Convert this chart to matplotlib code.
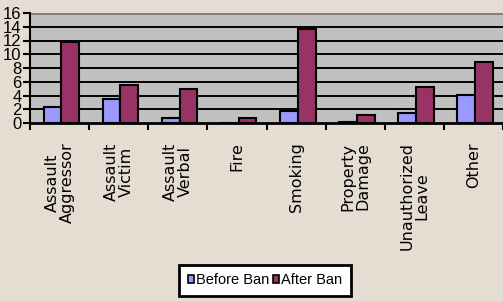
import matplotlib
matplotlib.use("Agg")
import matplotlib.pyplot as plt
import numpy as np
from matplotlib.patches import Patch

categories = ["Assault\nAggressor", "Assault\nVictim", "Assault\nVerbal", "Fire",
              "Smoking", "Property\nDamage", "Unauthorized\nLeave", "Other"]
before_ban = [2.3, 3.5, 0.8, 0.0, 1.8, 0.2, 1.5, 4.1]
after_ban = [11.8, 5.5, 5.0, 0.7, 13.7, 1.1, 5.2, 8.8]
yticks = [0, 2, 4, 6, 8, 10, 12, 14, 16]

plt.rcParams['font.family'] = ['Liberation Sans', 'DejaVu Sans']

bg = '#e6ddd2'
fig = plt.figure(figsize=(5.03, 3.01), dpi=100, facecolor=bg)
ax = fig.add_axes([30/503, 1-123/301, 473/503, 110/301])
ax.set_facecolor('#c0c0c0')

x = np.arange(len(categories)) + 0.5
w = 0.3
c_before = '#9999ff'
c_after = '#993366'
ax.bar(x - w/2 + 0.03, before_ban, w, color=c_before, edgecolor='black', linewidth=1.5, zorder=3)
ax.bar(x + w/2 + 0.03, after_ban, w, color=c_after, edgecolor='black', linewidth=1.5, zorder=3)

ax.set_xlim(0, len(categories))
ax.set_ylim(0, 16)
ax.set_yticks(yticks)
ax.set_yticklabels([str(v) for v in yticks], fontsize=12)
ax.tick_params(axis='y', length=5, width=1.5, pad=1, color='black')

for v in yticks[1:-1]:
    ax.axhline(v, color='black', lw=1.4, zorder=1)
ax.axhline(16, color='#808080', lw=2.2, zorder=1)

ax.set_xticks(np.arange(len(categories) + 1))
ax.set_xticklabels([])
ax.tick_params(axis='x', which='major', length=5, width=1.5, direction='out', color='black')
ax.set_xticks(x, minor=True)
ax.set_xticklabels(categories, minor=True, rotation=90, fontsize=11.5,
                   family=['DejaVu Sans'], linespacing=1.0, multialignment='center')
ax.tick_params(axis='x', which='minor', length=0, pad=14)

for s in ['top', 'right']:
    ax.spines[s].set_visible(False)
ax.spines['left'].set_linewidth(1.5)
ax.spines['bottom'].set_linewidth(2)
ax.spines['bottom'].set_zorder(4)

handles = [Patch(facecolor=c_before, edgecolor='black', linewidth=1.2, label='Before Ban'),
           Patch(facecolor=c_after, edgecolor='black', linewidth=1.2, label='After Ban')]
leg = fig.legend(handles=handles, loc='center', bbox_to_anchor=(265/503, 1-280.5/301),
                 ncol=2, fontsize=10.5, frameon=True, fancybox=False,
                 handlelength=0.45, handleheight=0.45, handletextpad=0.15,
                 columnspacing=0.2, borderpad=0.6, borderaxespad=0)
leg.get_frame().set_edgecolor('black')
leg.get_frame().set_linewidth(2)
leg.get_frame().set_facecolor('white')
leg.get_frame().set_alpha(1)

fig.savefig('out.png', dpi=100, facecolor=bg)
